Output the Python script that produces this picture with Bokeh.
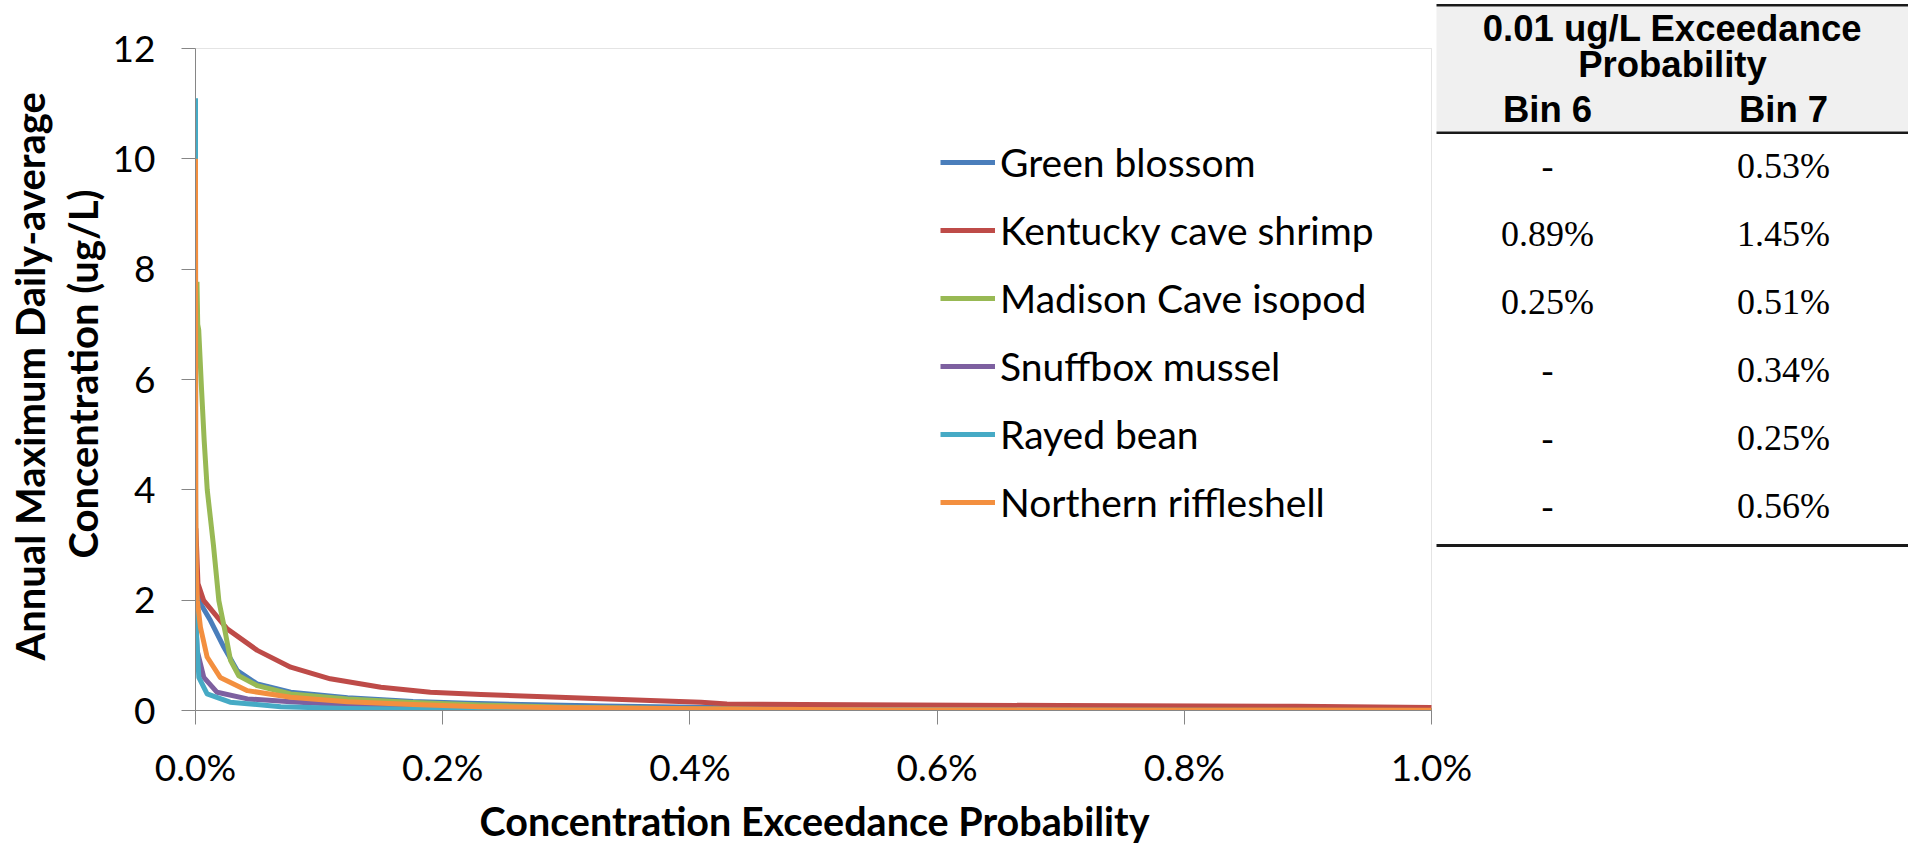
from bokeh.plotting import figure
from bokeh.models import (Range1d, FixedTicker, PrintfTickFormatter, Legend, LegendItem,
                          BoxAnnotation, ColumnDataSource, Title)
from bokeh.core.properties import value
from bokeh.embed import file_html
from bokeh.resources import INLINE

# ---------------- data ----------------
species = ["Green blossom", "Kentucky cave shrimp", "Madison Cave isopod",
           "Snuffbox mussel", "Rayed bean", "Northern riffleshell"]
colors = ["#4A7EBB", "#BE4B48", "#98B954", "#7D60A0", "#46AAC5", "#F38F3F"]

# exceedance probability (%) and annual max daily-average concentration (ug/L)
x_green_blossom = [0.0003, 0.0015, 0.0027, 0.0121, 0.0229, 0.0337, 0.05, 0.077, 0.123,
                   0.176, 0.22, 0.33, 0.46, 0.53, 0.7, 1.0]
y_green_blossom = [2.6, 2.25, 1.99, 1.63, 1.15, 0.725, 0.48, 0.33, 0.23,
                   0.163, 0.13, 0.08, 0.04, 0.01, 0.004, 0.001]

x_kentucky = [0.0003, 0.002, 0.0067, 0.0256, 0.05, 0.077, 0.109, 0.150, 0.190, 0.231,
              0.294, 0.368, 0.409, 0.43, 0.49, 0.58, 0.70, 0.89, 1.0]
y_kentucky = [3.3, 2.3, 1.99, 1.48, 1.09, 0.785, 0.574, 0.42, 0.33, 0.29,
              0.24, 0.18, 0.15, 0.12, 0.11, 0.10, 0.09, 0.075, 0.055]

x_madison = [0.0012, 0.0018, 0.0026, 0.0048, 0.007, 0.0095, 0.0145, 0.0189, 0.0243,
             0.0283, 0.035, 0.05, 0.077, 0.123, 0.176, 0.23, 0.30, 0.40, 0.51, 0.70, 1.0]
y_madison = [7.77, 7.0, 6.9, 5.86, 4.9, 4.0, 3.0, 1.99, 1.39,
             0.91, 0.63, 0.45, 0.30, 0.21, 0.145, 0.10, 0.06, 0.03, 0.01, 0.004, 0.001]

x_snuffbox = [0.0002, 0.0013, 0.0067, 0.0175, 0.042, 0.077, 0.123, 0.2, 0.34, 0.6, 1.0]
y_snuffbox = [1.7, 1.09, 0.60, 0.33, 0.21, 0.16, 0.10, 0.05, 0.01, 0.003, 0.001]

x_rayed = [0.0, 0.0001, 0.0003, 0.0008, 0.0027, 0.0094, 0.028, 0.069, 0.123, 0.25, 0.5, 1.0]
y_rayed = [11.1, 4.0, 1.8, 1.39, 0.60, 0.30, 0.15, 0.07, 0.035, 0.01, 0.003, 0.001]

x_northern = [0.0, 0.0002, 0.0004, 0.0008, 0.0015, 0.004, 0.0094, 0.02, 0.042, 0.077,
              0.123, 0.176, 0.23, 0.30, 0.40, 0.56, 0.8, 1.0]
y_northern = [10.0, 4.0, 3.0, 2.4, 1.99, 1.51, 0.97, 0.60, 0.36, 0.24,
              0.16, 0.11, 0.07, 0.05, 0.03, 0.01, 0.005, 0.003]

series_x = [x_green_blossom, x_kentucky, x_madison, x_snuffbox, x_rayed, x_northern]
series_y = [y_green_blossom, y_kentucky, y_madison, y_snuffbox, y_rayed, y_northern]

x_title = "Concentration Exceedance Probability"
y_title = ["Annual Maximum Daily-average", "Concentration (ug/L)"]

table_title = ["0.01 ug/L Exceedance", "Probability"]
col_heads = ["Bin 6", "Bin 7"]
bin6 = ["-", "0.89%", "0.25%", "-", "-", "-"]
bin7 = ["0.53%", "1.45%", "0.51%", "0.34%", "0.25%", "0.56%"]

x_ticks = [0.0, 0.2, 0.4, 0.6, 0.8, 1.0]
y_ticks = [0, 2, 4, 6, 8, 10, 12]
x_max, y_max = 1.0, 12

# ---------------- layout geometry (page pixels) ----------------
FL, FR, FB = 195, 1908, 710       # frame left / right / bottom
PX_X = 1236 / x_max               # pixels per x unit in the chart area
PX_Y = (FB - 48) / y_max          # pixels per y unit

p = figure(frame_width=FR - FL, frame_height=FB,
           min_border_left=FL, min_border_right=0, min_border_top=0, min_border_bottom=135,
           x_range=Range1d(0, (FR - FL) / PX_X), y_range=Range1d(0, FB / PX_Y),
           output_backend="svg", toolbar_location=None)
p.xgrid.visible = False
p.ygrid.visible = False
p.outline_line_color = None
p.background_fill_color = "white"
p.border_fill_color = "white"

# extra pixel-ranges for the side table
p.extra_x_ranges = {"px": Range1d(FL, FR)}
p.extra_y_ranges = {"px": Range1d(FB, 0)}

for ax in (p.xaxis[0], p.yaxis[0]):
    ax.axis_line_color = "#868686"
    ax.axis_line_width = 1
    ax.major_tick_line_color = "#868686"
    ax.major_tick_in = 0
    ax.major_tick_out = 14
    ax.minor_tick_line_color = None
    ax.major_label_text_font = "Lato"
    ax.major_label_text_font_size = "37px"
    ax.major_label_text_color = "black"

p.xaxis.ticker = FixedTicker(ticks=x_ticks)
p.yaxis.ticker = FixedTicker(ticks=y_ticks)
p.xaxis.bounds = (0, x_max)
p.yaxis.bounds = (0, y_max)
p.xaxis.formatter = PrintfTickFormatter(format="%.1f%%")
p.xaxis.major_label_standoff = 19
p.yaxis.major_label_standoff = 26

# axis titles, positioned along the chart area (not the whole frame)
p.add_layout(Title(text=x_title, align="left", offset=284, standoff=6,
                   text_font="Lato", text_font_style="bold", text_font_size="39.5px",
                   text_color="black"), "below")
p.add_layout(Title(text=y_title[1], align="left", offset=152, standoff=6,
                   text_font="Lato", text_font_style="bold", text_font_size="40px",
                   text_color="black"), "left")
p.add_layout(Title(text=y_title[0], align="left", offset=50, standoff=0,
                   text_font="Lato", text_font_style="bold", text_font_size="40px",
                   text_color="black"), "left")

# plot-area border (top and right edges)
p.add_layout(BoxAnnotation(left=0, right=x_max, bottom=0, top=y_max, fill_alpha=0,
                           line_color="#a6a6a6", line_width=1, level="underlay"))

items = []
for name, xs, ys, c in zip(species, series_x, series_y, colors):
    r = p.line(xs, ys, line_color=c, line_width=5, line_join="round")
    items.append(LegendItem(label=name, renderers=[r]))

legend = Legend(items=items, location=(745, 174), orientation="vertical",
                label_text_font="Lato", label_text_font_size="39px", label_text_color="black",
                glyph_width=55, glyph_height=68, label_height=68, spacing=0,
                padding=0, margin=0, label_standoff=5,
                border_line_color=None, background_fill_alpha=0)
p.add_layout(legend)

# ---------------- side table ----------------
TL, TR = 1436, 1908
rules = ColumnDataSource(dict(
    left=[TL, TL, TL, TL], right=[TR, TR, TR, TR],
    top=[6, 3.5, 131, 543.5], bottom=[131, 6, 133.5, 546.5],
    color=["#f0f0f0", "#1a1a1a", "#1a1a1a", "#1a1a1a"]))
p.quad(left="left", right="right", top="top", bottom="bottom", fill_color="color",
       line_color=None, source=rules, x_range_name="px", y_range_name="px")

tcx = (TL + TR) / 2
col_x = [1547, 1783]
head_src = ColumnDataSource(dict(
    x=[tcx, tcx] + col_x,
    y=[28, 64, 109, 109],
    t=table_title + col_heads))
p.text(x="x", y="y", text="t", source=head_src, x_range_name="px", y_range_name="px",
       text_font=value("Liberation Sans"), text_font_style="bold", text_font_size="36.5px",
       text_color="black", text_align="center", text_baseline="middle")

cells_x, cells_y, cells_t = [], [], []
for cx, vals in zip(col_x, (bin6, bin7)):
    for i, v in enumerate(vals):
        cells_x.append(cx)
        cells_y.append(165.8 + 68.0 * i)
        cells_t.append(v)
cell_src = ColumnDataSource(dict(x=cells_x, y=cells_y, t=cells_t))
p.text(x="x", y="y", text="t", source=cell_src, x_range_name="px", y_range_name="px",
       text_font=value("Liberation Serif"), text_font_size="36px",
       text_color="black", text_align="center", text_baseline="middle")

open("out.html", "w").write(file_html(p, INLINE))
